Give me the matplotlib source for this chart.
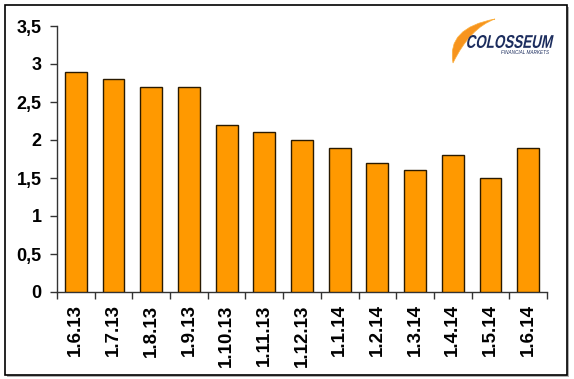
import numpy as np
import matplotlib
matplotlib.use("Agg")
from matplotlib import pyplot as plt
from matplotlib.patches import Rectangle, PathPatch
from matplotlib.path import Path
from matplotlib.textpath import TextPath
from matplotlib.font_manager import FontProperties
from matplotlib.transforms import Affine2D
from matplotlib.ticker import FuncFormatter, FixedLocator

dates = ["1.6.13", "1.7.13", "1.8.13", "1.9.13", "1.10.13", "1.11.13", "1.12.13",
         "1.1.14", "1.2.14", "1.3.14", "1.4.14", "1.5.14", "1.6.14"]
values = [2.9, 2.8, 2.7, 2.7, 2.2, 2.1, 2.0, 1.9, 1.7, 1.6, 1.8, 1.5, 1.9]
yticks = [0, 0.5, 1, 1.5, 2, 2.5, 3, 3.5]

plt.rcParams["font.family"] = ["Liberation Sans", "DejaVu Sans"]

W, H = 574, 379
fig = plt.figure(figsize=(5.74, 3.79), dpi=100)

# frame with shadow
fig.patches.append(Rectangle((7 / W, 1 - 377 / H), 562 / W, 370 / H, transform=fig.transFigure,
                             facecolor="#b0b0b0", edgecolor="none", zorder=-2))
fig.patches.append(Rectangle((5 / W, 1 - 375 / H), 562 / W, 370 / H, transform=fig.transFigure,
                             facecolor="white", edgecolor="black", linewidth=1.2, zorder=-1))

ax = fig.add_axes([57 / W, 1 - 292 / H, 490 / W, 266 / H])
ax.set_zorder(2)
ax.set_facecolor("none")
x = np.arange(len(dates))
ax.bar(x, values, width=0.58, color="#ff9900", edgecolor="#2a1a00", linewidth=1.0, zorder=3)

ax.set_xlim(-0.5, len(dates) - 0.5)
ax.set_ylim(0, 3.5)
ax.set_yticks(yticks)
ax.yaxis.set_major_formatter(FuncFormatter(lambda v, p: ("%g" % v).replace(".", ",")))
ax.set_xticks(x)
ax.set_xticklabels(dates, rotation=90)
ax.xaxis.set_minor_locator(FixedLocator(np.arange(-0.5, len(dates), 1)))
ax.tick_params(axis="x", which="major", length=0, pad=9, labelsize=13.5)
ax.tick_params(axis="x", which="minor", length=5, width=1, color="#333333")
ax.tick_params(axis="y", length=5, width=1, color="#333333", labelsize=13, pad=6)
for lab in ax.get_xticklabels() + ax.get_yticklabels():
    lab.set_fontweight("bold")
for s in ["top", "right"]:
    ax.spines[s].set_visible(False)
for s in ["left", "bottom"]:
    ax.spines[s].set_color("#333333")
    ax.spines[s].set_linewidth(1)

# logo (drawn in pixel space, y pointing down)
to_fig = Affine2D().scale(1 / W, -1 / H).translate(0, 1) + fig.transFigure
swoosh = Path([(453, 63), (446, 28), (495, 19), (470, 28), (453, 63), (453, 63)],
              [Path.MOVETO, Path.CURVE3, Path.CURVE3, Path.CURVE3, Path.CURVE3, Path.CLOSEPOLY])
fig.patches.append(PathPatch(swoosh, transform=to_fig, facecolor="#f7941d", edgecolor="#fbb040",
                             linewidth=0.5, zorder=3))
tp = TextPath((0, 0), "COLOSSEUM", size=10, prop=FontProperties(family="Liberation Sans", weight="bold"))
ext = tp.get_extents()
sx = 85 / ext.width
sy = 13 / ext.height
logo_tf = Affine2D().translate(-ext.x0, -ext.y0).scale(sx, -sy).skew_deg(-12, 0).translate(466, 48)
fig.patches.append(PathPatch(tp, transform=logo_tf + to_fig, facecolor="#1c2d5e",
                             edgecolor="none", zorder=5))
fig.text(549 / W, 1 - 53 / H, "FINANCIAL MARKETS", ha="right", va="center", fontsize=3.3,
         style="italic", color="#1c2d5e", zorder=5)

fig.savefig("out.png", dpi=100)
